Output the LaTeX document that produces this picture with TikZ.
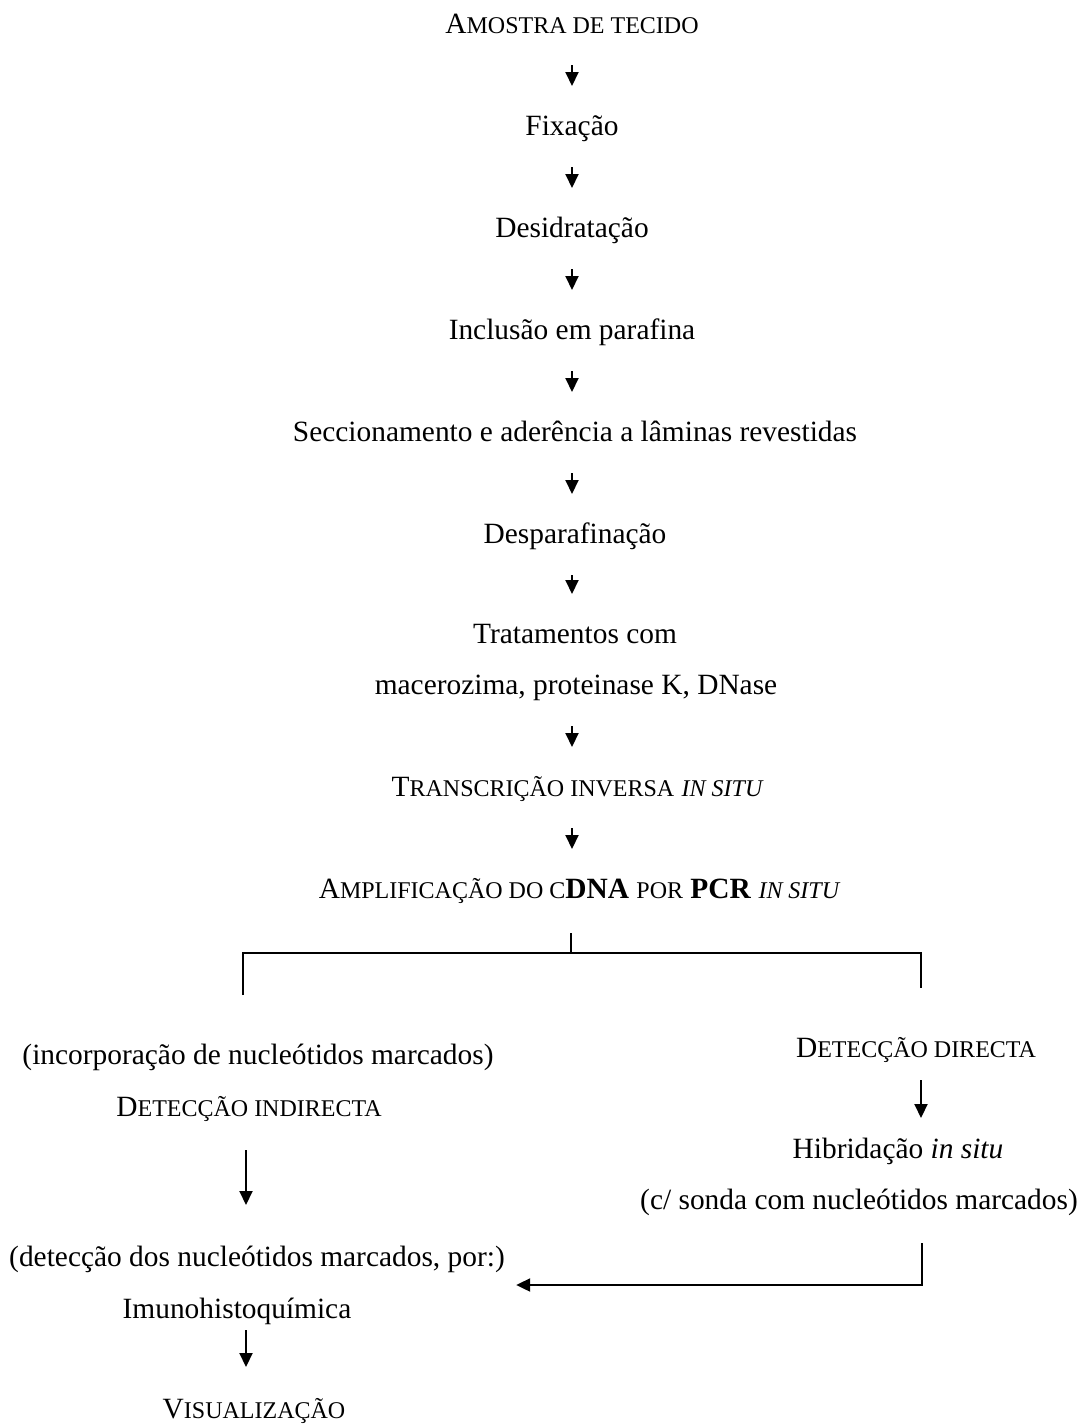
\documentclass[tikz,border=0pt]{standalone}
\usepackage{fontspec}
\setmainfont{Liberation Serif}
\usetikzlibrary{positioning, arrows.meta}
\newcommand{\pequ}[1]{{\fontsize{12}{14}\selectfont #1}}
\newcommand{\vers}[2]{#1\pequ{#2}}

\begin{document}
\begin{tikzpicture}[x=0.5pt, y=-0.5pt,
                pbox/.style={inner sep=0pt, align=center,
                    font=\fontsize{14.7}{25.5}\selectfont,
                    text height=10.7pt, text depth=3.4pt},
                seta/.style={-{Triangle[width=6.5pt, length=7pt]},
                    line width=1pt, shorten <=19.5pt, shorten >=21pt},
                linha/.style={line width=1pt}
            ]
                \useasboundingbox (0,0) rectangle (1082,1424);

                % tronco principal
                \node[pbox] (amostra) at (572, 26)
                    {\vers{A}{MOSTRA DE TECIDO}};
                \node[pbox] (fix) at (572, 128) {Fixação};
                \node[pbox] (desid) at (572, 230) {Desidratação};
                \node[pbox] (incl) at (572, 332) {Inclusão em parafina};
                \node[pbox] (secc) at (575, 434)
                    {Seccionamento e aderência a lâminas revestidas};
                \node[pbox] (despar) at (575, 536) {Desparafinação};
                \node[pbox] (trat) at (575, 636) {Tratamentos com};
                \node[pbox] (macer) at (576, 687)
                    {macerozima, proteinase K, DNase};
                \node[pbox] (transc) at (577, 789)
                    {\vers{T}{RANSCRIÇÃO INVERSA} \pequ{\itshape IN SITU}};
                \node[pbox] (ampl) at (579, 891)
                    {\vers{A}{MPLIFICAÇÃO DO C}\textbf{DNA} \pequ{POR} \textbf{PCR} \pequ{\itshape IN SITU}};

                \draw[seta] (amostra.center) -- (fix.center);
                \draw[seta] (fix.center) -- (desid.center);
                \draw[seta] (desid.center) -- (incl.center);
                \draw[seta] (incl.center) -- (secc.center -| incl);
                \draw[seta] (secc.center -| incl) -- (despar.center -| incl);
                \draw[seta] (despar.center -| incl) -- (trat.center -| incl);
                \draw[seta] (macer.center -| incl) -- (transc.center -| incl);
                \draw[seta] (transc.center -| incl) -- (ampl.center -| incl);

                % ramificacao
                \coordinate (topo) at (571, 933);
                \coordinate (junc) at (571, 953);
                \coordinate (esq) at (243, 995);
                \coordinate (dir) at (921, 988);
                \coordinate (eixo) at (246, 1000);
                \draw[linha] (topo) -- (junc);
                \draw[linha] (esq) |- (junc) -| (dir);

                % deteccao indirecta
                \node[pbox] (incorp) at (258, 1057)
                    {(incorporação de nucleótidos marcados)};
                \node[pbox] (indir) at (249, 1109)
                    {\vers{D}{ETECÇÃO INDIRECTA}};
                \node[pbox] (detnuc) at (257, 1259)
                    {(detecção dos nucleótidos marcados, por:)};
                \node[pbox] (imuno) at (237, 1311) {Imunohistoquímica};
                \node[pbox] (visual) at (254, 1411) {\vers{V}{ISUALIZAÇÃO}};

                \draw[seta, shorten <=20.5pt, shorten >=27pt]
                    (indir.center -| eixo) -- (detnuc.center -| eixo);
                \draw[seta, shorten <=9.5pt, shorten >=22pt]
                    (imuno.center -| eixo) -- (visual.center -| eixo);

                % deteccao directa
                \node[pbox] (direc) at (916, 1050)
                    {\vers{D}{ETECÇÃO DIRECTA}};
                \node[pbox] (hibr) at (898, 1151)
                    {Hibridação \textit{in situ}};
                \node[pbox] (sonda) at (859, 1202)
                    {(c/ sonda com nucleótidos marcados)};

                \draw[seta, shorten <=15pt, shorten >=16.5pt]
                    (direc.center -| dir) -- (hibr.center -| dir);

                \coordinate (rtopo) at (922, 1243);
                \coordinate (rbase) at (922, 1285);
                \draw[seta, shorten <=0pt, shorten >=5.5pt]
                    (rtopo) -- (rbase) -- (rbase -| detnuc.east);

            \end{tikzpicture}
\end{document}
